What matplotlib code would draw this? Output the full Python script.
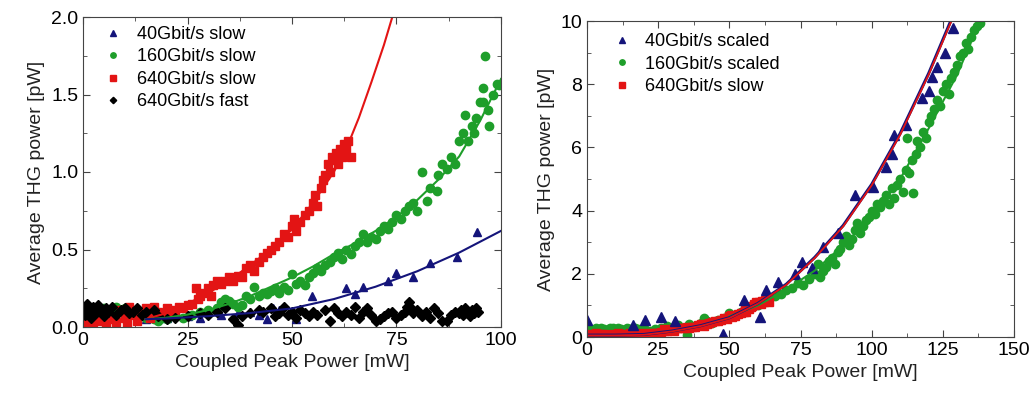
import numpy as np
import matplotlib.pyplot as plt
from matplotlib.ticker import MultipleLocator

plt.rcParams['font.family'] = ['Liberation Sans', 'DejaVu Sans']

# ---- left panel: measured data ----
red_x = [0, 0.5, 1, 1.5, 2, 2.5, 3, 3.5, 4, 5, 5.5, 6, 7, 8, 9, 10, 10.5, 11, 12, 13, 14, 15,
         16, 17, 18, 19, 20, 21, 22, 23, 24, 25,
         26, 27, 27.5, 28, 29, 30, 30.5, 31, 32, 33, 34, 35, 36, 37, 38, 39, 40, 41, 42, 43,
         44, 45, 46, 47, 48, 49, 50, 50.5, 51, 52, 53, 54, 55, 55.5, 56, 57, 57.5, 58, 58.5,
         59, 59.5, 60, 60.5, 61, 61.5, 62, 62.5, 63, 63.5, 64]
red_y = [0.05, 0.02, 0.10, 0.04, 0.07, 0.03, 0.12, 0.06, 0.04, 0.08, 0.02, 0.10, 0.05, 0.03,
         0.11, 0.06, 0.02, 0.13, 0.08, 0.04, 0.10, 0.12, 0.06, 0.13, 0.10, 0.08, 0.12, 0.10,
         0.11, 0.13, 0.12, 0.14,
         0.15, 0.25, 0.18, 0.20, 0.22, 0.25, 0.20, 0.27, 0.30, 0.28, 0.30, 0.32, 0.30, 0.33,
         0.32, 0.38, 0.40, 0.36, 0.42, 0.45, 0.48, 0.50, 0.52, 0.55, 0.60, 0.58, 0.65, 0.70,
         0.62, 0.68, 0.72, 0.75, 0.80, 0.85, 0.78, 0.90, 0.95, 0.98, 1.05, 1.00, 1.10, 1.08,
         1.12, 1.05, 1.15, 1.10, 1.18, 1.15, 1.20, 1.10]

green_x = [0, 1, 2, 3, 4, 5, 6, 7, 8, 9, 10, 11, 12, 13, 14, 15, 16, 17, 18, 19, 20, 22, 24,
           26, 28, 30, 32, 33, 34, 35, 36, 37, 38, 39, 40, 41, 42, 43, 44, 45, 46, 47, 48, 49,
           50, 51, 52, 53, 54, 55, 56, 57, 58, 59, 60, 61, 62, 63, 64, 65, 66, 67, 68, 69, 70,
           71, 72, 73, 74, 75, 76, 77, 78, 79, 80, 81, 82.2, 83, 84.6, 85, 86, 87, 88, 89, 90,
           91, 91.4, 92, 93, 93.5, 94, 95, 95.6, 95.6, 96.2, 97, 97.1, 98, 99, 99.5]
green_y = [0.10, 0.12, 0.08, 0.11, 0.10, 0.12, 0.09, 0.11, 0.13, 0.10, 0.12, 0.09, 0.10,
           0.11, 0.07, 0.06, 0.08, 0.05, 0.04, 0.06, 0.05, 0.07, 0.06, 0.08, 0.10, 0.11, 0.12,
           0.16, 0.18, 0.17, 0.15, 0.13, 0.14, 0.20, 0.18, 0.26, 0.20, 0.22, 0.21, 0.23, 0.25,
           0.22, 0.26, 0.24, 0.34, 0.28, 0.30, 0.27, 0.32, 0.35, 0.38, 0.36, 0.40, 0.42, 0.45,
           0.48, 0.44, 0.50, 0.47, 0.52, 0.55, 0.60, 0.55, 0.58, 0.57, 0.62, 0.65, 0.63, 0.68,
           0.72, 0.70, 0.75, 0.78, 0.80, 0.75, 1.00, 0.81, 0.90, 0.88, 0.98, 1.05, 1.02, 1.10,
           1.05, 1.20, 1.25, 1.37, 1.20, 1.30, 1.25, 1.35, 1.45, 1.54, 1.45, 1.75, 1.40, 1.30,
           1.50, 1.57, 1.56]

blue_x = [2, 8, 15, 20, 25, 28, 33, 37, 40, 42, 44, 45.5, 47, 50, 51, 54.8, 63, 65, 67, 73,
          75, 79, 83, 89.4, 94.2]
blue_y = [0.10, 0.07, 0.05, 0.06, 0.07, 0.06, 0.08, 0.09, 0.10, 0.08, 0.05, 0.12, 0.11, 0.10,
          0.05, 0.20, 0.25, 0.21, 0.26, 0.30, 0.35, 0.32, 0.41, 0.45, 0.61]

black_x = [0, 0.5, 1, 1.5, 2, 2.5, 3, 3.5, 4, 5, 5.5, 6, 7, 8, 9, 10, 11, 12, 13, 14, 15, 17,
           18, 20, 22, 25, 28, 30, 32, 34, 36, 37, 38, 40, 42, 43, 45, 46, 47, 48, 49, 50, 51,
           52, 53, 54, 55, 56, 58, 59, 60, 61, 62, 63, 64, 65, 66, 67, 68, 69, 70, 71, 72, 73,
           74, 75, 76, 77, 77.5, 78, 78.5, 79, 80, 81, 82, 83, 84, 85, 86, 87, 88, 89, 90, 90.5,
           91, 91.5, 92, 92.5, 93, 93.5, 94, 94.5]
black_y = [0.12, 0.08, 0.15, 0.10, 0.06, 0.13, 0.09, 0.14, 0.11, 0.07, 0.12, 0.10, 0.13, 0.08,
           0.11, 0.12, 0.09, 0.10, 0.12, 0.08, 0.10, 0.11, 0.07, 0.05, 0.06, 0.07, 0.09, 0.08,
           0.10, 0.12, 0.05, 0.01, 0.07, 0.09, 0.11, 0.10, 0.12, 0.07, 0.09, 0.13, 0.08, 0.10,
           0.06, 0.11, 0.09, 0.07, 0.10, 0.08, 0.11, 0.04, 0.12, 0.09, 0.07, 0.10, 0.08, 0.13,
           0.06, 0.10, 0.12, 0.08, 0.04, 0.05, 0.07, 0.09, 0.10, 0.06, 0.08, 0.10, 0.13, 0.16,
           0.12, 0.09, 0.11, 0.07, 0.10, 0.06, 0.12, 0.09, 0.04, 0.04, 0.08, 0.10, 0.09, 0.11,
           0.08, 0.12, 0.10, 0.07, 0.11, 0.09, 0.12, 0.10]

# fit curves
red_fit_x = [15, 20, 25, 30, 35, 40, 45, 50, 55, 60, 63, 66, 69, 72, 74]
red_fit_y = [0.05, 0.09, 0.15, 0.22, 0.30, 0.40, 0.50, 0.63, 0.80, 1.00, 1.15, 1.35, 1.58,
             1.82, 2.00]
green_fit_x = [15, 20, 25, 30, 35, 40, 45, 50, 55, 60, 65, 70, 75, 80, 85, 90, 95, 100]
green_fit_y = [0.05, 0.06, 0.08, 0.11, 0.15, 0.20, 0.26, 0.32, 0.39, 0.47, 0.54, 0.62, 0.71,
               0.82, 0.95, 1.10, 1.33, 1.60]
blue_fit_x = [15, 20, 30, 40, 50, 60, 70, 75, 80, 90, 100]
blue_fit_y = [0.05, 0.055, 0.07, 0.09, 0.12, 0.18, 0.26, 0.31, 0.36, 0.48, 0.62]

# ---- right panel ----
r_green_x = [0, 1, 2, 3, 4, 5, 6, 7, 8, 9, 10, 11, 12, 13, 14, 15, 16, 17, 18, 20, 22, 24,
             26, 28, 30, 32, 34, 35, 36, 38, 40, 41, 42, 44, 46, 48, 50, 52, 54, 56, 58, 60,
             62, 64, 66, 68, 70, 72, 74, 76, 78, 80, 81, 82, 83, 84, 85, 86, 87, 88, 89, 90,
             91, 92, 93, 94, 95, 96, 97, 98, 99, 100, 101, 102, 103, 104, 105, 106, 107, 108,
             109, 110, 111, 112, 112.3, 113, 114, 114.5, 115.5, 116, 117, 118, 119, 120, 121,
             122, 123, 124, 125, 126, 127, 128, 129, 130, 131, 132, 133, 134, 135, 136, 137, 138]
r_green_y = [0.30, 0.25, 0.20, 0.28, 0.22, 0.30, 0.25, 0.20, 0.27, 0.30, 0.23, 0.28, 0.25,
             0.20, 0.30, 0.26, 0.22, 0.28, 0.25, 0.30, 0.20, 0.25, 0.30, 0.35, 0.30, 0.38,
             0.30, 0.05, 0.40, 0.35, 0.45, 0.60, 0.50, 0.45, 0.55, 0.60, 0.75, 0.70, 0.80,
             0.90, 0.95, 1.00, 1.10, 1.20, 1.30, 1.35, 1.50, 1.55, 1.70, 1.65, 1.85, 2.00,
             2.30, 1.90, 2.10, 2.20, 2.40, 2.50, 2.30, 2.70, 2.80, 3.00, 3.20, 2.90, 3.10,
             3.40, 3.60, 3.30, 3.50, 3.70, 3.80, 4.00, 3.90, 4.20, 4.10, 4.30, 4.50, 4.20,
             4.70, 4.40, 4.80, 5.00, 4.60, 5.30, 6.30, 5.20, 5.60, 4.55, 5.80, 6.20, 6.00,
             6.50, 6.30, 6.80, 7.00, 7.20, 7.50, 7.30, 7.80, 8.00, 7.70, 8.20, 8.40, 8.60,
             8.90, 9.00, 9.30, 9.10, 9.50, 9.70, 9.85, 9.95]

r_blue_x = [0, 16, 20.4, 26, 31, 47.8, 55, 60.8, 63, 67, 73, 75.4, 79, 83, 88, 94, 100.3,
            104.9, 107, 108, 111.9, 117.6, 120, 121.3, 123, 125.7, 128.6]
r_blue_y = [0.53, 0.38, 0.53, 0.64, 0.50, 0.10, 1.16, 0.64, 1.49, 1.75, 2.00, 2.38, 2.17,
            2.86, 3.30, 4.50, 4.76, 5.39, 5.80, 6.40, 6.70, 7.55, 7.80, 8.24, 8.55, 8.98, 9.77]

r_red_fit_x = [0, 10, 20, 30, 40, 50, 60, 70, 80, 90, 100, 110, 120, 128]
r_red_fit_y = [0.05, 0.05, 0.07, 0.18, 0.35, 0.60, 1.05, 1.65, 2.50, 3.50, 4.80, 6.40, 8.30, 10.0]
r_blue_fit_y = [0.06, 0.06, 0.08, 0.19, 0.36, 0.61, 1.06, 1.67, 2.52, 3.53, 4.83, 6.44, 8.34, 10.05]
r_green_fit_x = [50, 60, 70, 80, 90, 100, 110, 120, 130, 138]
r_green_fit_y = [0.65, 1.00, 1.50, 2.10, 2.90, 3.80, 5.00, 6.60, 8.30, 10.0]

navy = '#14147a'
green = '#1e9e2a'
red = '#e31414'

fig = plt.figure(figsize=(10.34, 4.0), dpi=100)
ax1 = fig.add_axes([0.0803, 0.1825, 0.4042, 0.775])
ax2 = fig.add_axes([0.5677, 0.1575, 0.4130, 0.79])

ms = 6
ax1.plot(blue_x, blue_y, '^', color=navy, ms=ms, label='40Gbit/s slow')
ax1.plot(green_x, green_y, 'o', color=green, ms=ms, label='160Gbit/s slow')
ax1.plot(red_x, red_y, 's', color=red, ms=ms, label='640Gbit/s slow')
ax1.plot(black_x, black_y, 'D', color='black', ms=5, label='640Gbit/s fast')
ax1.plot(red_fit_x, red_fit_y, '-', color=red, lw=1.5)
ax1.plot(green_fit_x, green_fit_y, '-', color=green, lw=1.5)
ax1.plot(blue_fit_x, blue_fit_y, '-', color=navy, lw=1.5)
ax1.set_xlim(0, 100)
ax1.set_ylim(0, 2.0)
ax1.xaxis.set_major_locator(MultipleLocator(25))
ax1.xaxis.set_minor_locator(MultipleLocator(12.5))
ax1.yaxis.set_major_locator(MultipleLocator(0.5))
ax1.yaxis.set_minor_locator(MultipleLocator(0.25))
ax1.yaxis.set_major_formatter(plt.FormatStrFormatter('%.1f'))

ax2.plot(r_green_x, r_green_y, 'o', color=green, ms=ms, label='160Gbit/s scaled')
ax2.plot(red_x, red_y, 's', color=red, ms=ms, label='640Gbit/s slow')
ax2.plot(r_blue_x, r_blue_y, '^', color=navy, ms=ms + 0.5, label='40Gbit/s scaled')
ax2.plot(r_green_fit_x, r_green_fit_y, '-', color=green, lw=1.5)
ax2.plot(r_red_fit_x, r_blue_fit_y, '-', color=navy, lw=2.2)
ax2.plot(r_red_fit_x, r_red_fit_y, '-', color=red, lw=1.3)
ax2.set_xlim(0, 150)
ax2.set_ylim(0, 10)
ax2.xaxis.set_major_locator(MultipleLocator(25))
ax2.xaxis.set_minor_locator(MultipleLocator(12.5))
ax2.yaxis.set_major_locator(MultipleLocator(2))
ax2.yaxis.set_minor_locator(MultipleLocator(1))

for ax in (ax1, ax2):
    ax.tick_params(which='both', direction='in', top=True, right=True, labelsize=14,
                   color='#444444')
    ax.tick_params(which='major', length=5)
    ax.tick_params(which='minor', length=3)
    for s in ax.spines.values():
        s.set_color('#444444')
    ax.set_xlabel('Coupled Peak Power [mW]', fontsize=14, color='#222222')
    ax.set_ylabel('Average THG power [pW]', fontsize=14, color='#222222')

ax1.legend(loc='upper left', frameon=False, fontsize=13, handletextpad=0.7, handlelength=1.2,
           markerscale=0.65, borderaxespad=0.1, labelspacing=0.3, bbox_to_anchor=(0.025, 1.0))
h, l = ax2.get_legend_handles_labels()
ax2.legend([h[2], h[0], h[1]], [l[2], l[0], l[1]], loc='upper left', frameon=False,
           fontsize=13, handletextpad=0.7, handlelength=1.2, markerscale=0.65,
           borderaxespad=0.1, labelspacing=0.3, bbox_to_anchor=(0.035, 0.99))

fig.savefig('out.png', dpi=100)
